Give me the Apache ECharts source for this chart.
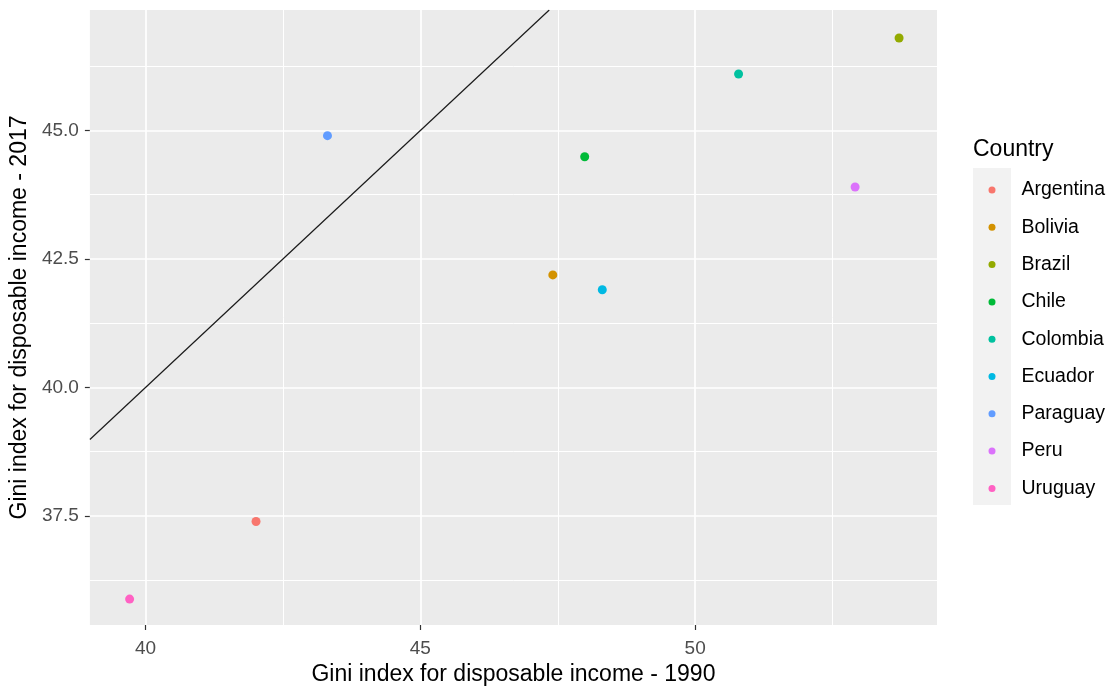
<!DOCTYPE html>
<html>
<head>
<meta charset="utf-8">
<script src="https://cdn.jsdelivr.net/npm/echarts@6/dist/echarts.min.js"></script>
<style>
html,body{margin:0;padding:0;background:#fff;}
#chart{width:1117px;height:691px;}
</style>
</head>
<body>
<div id="chart"></div>
<script>
const countries = ["Argentina","Bolivia","Brazil","Chile","Colombia","Ecuador","Paraguay","Peru","Uruguay"];
const gini1990 = [42.01, 47.41, 53.71, 47.99, 50.79, 48.31, 43.31, 52.91, 39.71];
const gini2017 = [37.39, 42.19, 46.80, 44.49, 46.10, 41.90, 44.90, 43.90, 35.88];
const colors = ["#F8766D","#D39200","#93AA00","#00BA38","#00C19F","#00B9E3","#619CFF","#DB72FB","#FF61C3"];
const xMajorTicks = [40, 45, 50];
const xMinorTicks = [42.5, 47.5, 52.5];
const yMajorTicks = [37.5, 40.0, 42.5, 45.0];
const yMinorTicks = [36.25, 38.75, 41.25, 43.75, 46.25];
const xRange = [38.987, 54.4];
const yRange = [35.376, 47.345];
const refLine = [[38.987, 38.987], [47.345, 47.345]];

const FONT = '"Liberation Sans", Arial, sans-serif';
const chart = echarts.init(document.getElementById('chart'), null, {renderer: 'canvas'});

const gridLines = {
  type: 'line', data: [], silent: true, z: 0,
  markLine: {
    silent: true, symbol: 'none', animation: false, z: 1,
    label: {show: false},
    data: [
      ...xMinorTicks.map(v => ({xAxis: v, lineStyle: {color: '#fff', width: 1.0, type: 'solid'}})),
      ...yMinorTicks.map(v => ({yAxis: v, lineStyle: {color: '#fff', width: 1.0, type: 'solid'}})),
      ...xMajorTicks.map(v => ({xAxis: v, lineStyle: {color: '#fff', width: 1.7, type: 'solid'}})),
      ...yMajorTicks.map(v => ({yAxis: v, lineStyle: {color: '#fff', width: 1.7, type: 'solid'}}))
    ]
  }
};

const pointSeries = countries.map((c, i) => ({
  name: c, type: 'scatter', symbol: 'circle', symbolSize: 9, z: 6,
  itemStyle: {color: colors[i], opacity: 1},
  data: [[gini1990[i], gini2017[i]]]
}));

const option = {
  animation: false,
  backgroundColor: '#fff',
  textStyle: {fontFamily: FONT},
  grid: {left: 89, right: 180, top: 10, bottom: 65, show: true, backgroundColor: '#EBEBEB', borderWidth: 0},
  title: {
    text: 'Country', left: 973, top: 138, padding: 0,
    textStyle: {fontFamily: FONT, fontSize: 23, fontWeight: 'normal', color: '#000'}
  },
  legend: {
    orient: 'vertical', left: 988.5, top: 180, padding: 0,
    itemWidth: 7, itemHeight: 7, itemGap: 17.3,
    icon: 'circle',
    data: countries,
    textStyle: {fontFamily: FONT, fontSize: 19.5, color: '#000', lineHeight: 20, padding: [0, 0, 0, 21]}
  },
  graphic: [{
    type: 'rect', left: 973, top: 168, z: -1,
    shape: {width: 38, height: 337},
    style: {fill: '#F2F2F2'}
  }],
  xAxis: {
    type: 'value', min: xRange[0], max: xRange[1],
    name: 'Gini index for disposable income - 1990', nameLocation: 'middle', nameGap: 38,
    nameTextStyle: {fontFamily: FONT, fontSize: 23, color: '#000'},
    axisLine: {show: false},
    axisTick: {show: true, length: 5, customValues: xMajorTicks, lineStyle: {color: '#333', width: 1.2}},
    axisLabel: {customValues: xMajorTicks, margin: 14, fontFamily: FONT, fontSize: 19, color: '#4D4D4D', formatter: v => String(v)},
    splitLine: {show: false}
  },
  yAxis: {
    type: 'value', min: yRange[0], max: yRange[1],
    name: 'Gini index for disposable income - 2017', nameLocation: 'middle', nameGap: 56,
    nameTextStyle: {fontFamily: FONT, fontSize: 23, color: '#000'},
    axisLine: {show: false},
    axisTick: {show: true, length: 5, customValues: yMajorTicks, lineStyle: {color: '#333', width: 1.2}},
    axisLabel: {customValues: yMajorTicks, margin: 11, fontFamily: FONT, fontSize: 19, color: '#4D4D4D', formatter: v => v.toFixed(1)},
    splitLine: {show: false}
  },
  series: [
    gridLines,
    {
      type: 'line', data: refLine, symbol: 'none', z: 4, silent: true,
      lineStyle: {color: '#1a1a1a', width: 1.2}
    },
    ...pointSeries
  ]
};
chart.setOption(option);
</script>
</body>
</html>
